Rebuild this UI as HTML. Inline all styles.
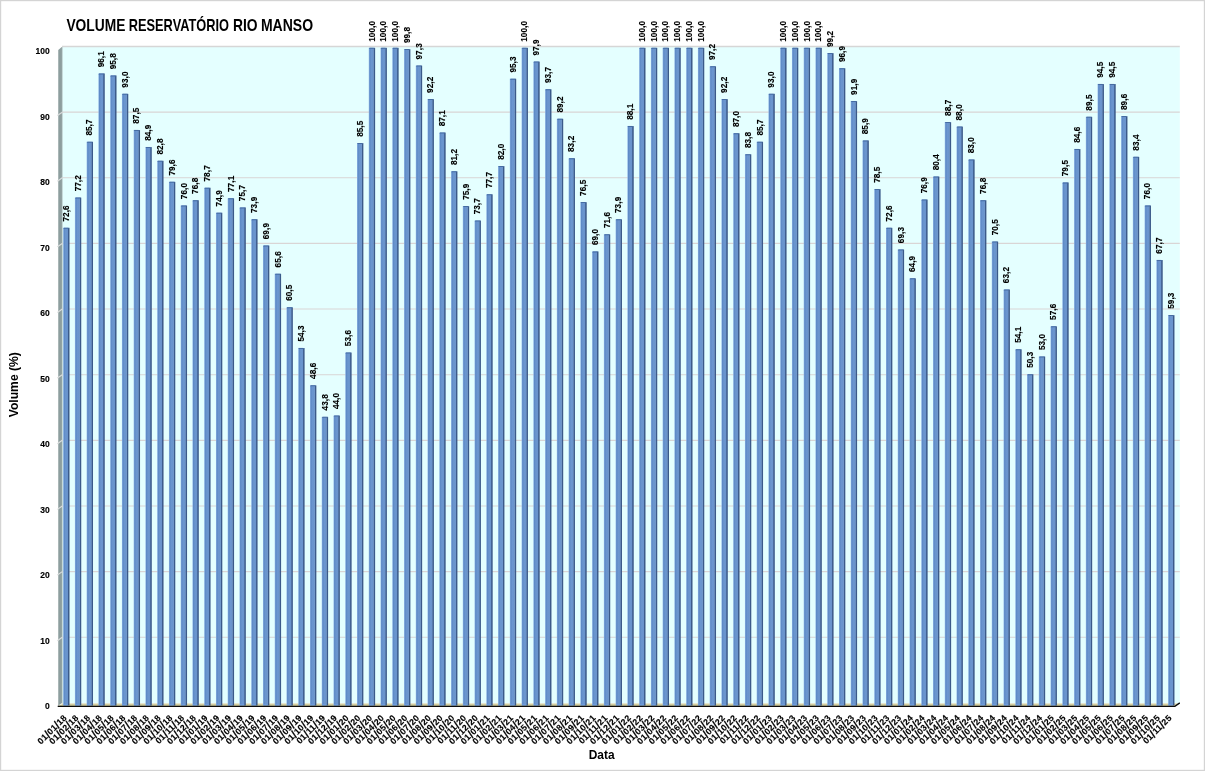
<!DOCTYPE html>
<html lang="pt-BR">
<head>
<meta charset="utf-8">
<title>Volume Reservatório Rio Manso</title>
<style>
html,body{margin:0;padding:0;background:#fff;}
body{width:1205px;height:771px;overflow:hidden;}
svg{display:block;}
</style>
</head>
<body>
<svg width="1205" height="771" viewBox="0 0 1205 771">
<defs><linearGradient id="face" x1="0" x2="1" y1="0" y2="0"><stop offset="0" stop-color="#8fb5e6"/><stop offset="0.22" stop-color="#5e8ac6"/><stop offset="0.55" stop-color="#6b96cf"/><stop offset="1" stop-color="#6892cb"/></linearGradient></defs>
<rect x="0" y="0" width="1205" height="771" fill="#fff"/>
<rect x="0.5" y="0.5" width="1204" height="770" fill="none" stroke="#d4d4d4" stroke-width="1.4"/>
<rect x="62.30" y="46.50" width="1117.50" height="656.70" fill="#e4ffff"/>
<polygon points="58.25,50.10 62.30,46.50 62.30,703.40 58.25,706.20" fill="#8d9e9e"/>
<rect x="61.90" y="47.00" width="0.9" height="656.40" fill="#c4d8d8"/>
<line x1="62.30" y1="637.26" x2="1179.80" y2="637.26" stroke="#d9d5d5" stroke-width="1.1"/>
<line x1="57.40" y1="640.66" x2="62.30" y2="637.26" stroke="#d9dcdc" stroke-width="1.2"/>
<line x1="62.30" y1="571.62" x2="1179.80" y2="571.62" stroke="#d9d5d5" stroke-width="1.1"/>
<line x1="57.40" y1="575.02" x2="62.30" y2="571.62" stroke="#d9dcdc" stroke-width="1.2"/>
<line x1="62.30" y1="505.98" x2="1179.80" y2="505.98" stroke="#d9d5d5" stroke-width="1.1"/>
<line x1="57.40" y1="509.38" x2="62.30" y2="505.98" stroke="#d9dcdc" stroke-width="1.2"/>
<line x1="62.30" y1="440.34" x2="1179.80" y2="440.34" stroke="#d9d5d5" stroke-width="1.1"/>
<line x1="57.40" y1="443.74" x2="62.30" y2="440.34" stroke="#d9dcdc" stroke-width="1.2"/>
<line x1="62.30" y1="374.70" x2="1179.80" y2="374.70" stroke="#d9d5d5" stroke-width="1.1"/>
<line x1="57.40" y1="378.10" x2="62.30" y2="374.70" stroke="#d9dcdc" stroke-width="1.2"/>
<line x1="62.30" y1="309.06" x2="1179.80" y2="309.06" stroke="#d9d5d5" stroke-width="1.1"/>
<line x1="57.40" y1="312.46" x2="62.30" y2="309.06" stroke="#d9dcdc" stroke-width="1.2"/>
<line x1="62.30" y1="243.42" x2="1179.80" y2="243.42" stroke="#d9d5d5" stroke-width="1.1"/>
<line x1="57.40" y1="246.82" x2="62.30" y2="243.42" stroke="#d9dcdc" stroke-width="1.2"/>
<line x1="62.30" y1="177.78" x2="1179.80" y2="177.78" stroke="#d9d5d5" stroke-width="1.1"/>
<line x1="57.40" y1="181.18" x2="62.30" y2="177.78" stroke="#d9dcdc" stroke-width="1.2"/>
<line x1="62.30" y1="112.14" x2="1179.80" y2="112.14" stroke="#d9d5d5" stroke-width="1.1"/>
<line x1="57.40" y1="115.54" x2="62.30" y2="112.14" stroke="#d9dcdc" stroke-width="1.2"/>
<line x1="62.00" y1="46.55" x2="1179.80" y2="46.55" stroke="#d6d6d6" stroke-width="1.5"/>
<polygon points="58.00,706.00 62.30,703.40 1179.80,703.40 1175.10,706.00" fill="#d2cd9e"/>
<polygon points="58.30,705.40 62.30,702.80 62.30,704.60" fill="#eef0e6"/>
<rect x="67.70" y="227.94" width="1.80" height="477.56" fill="#3b5a8a"/>
<rect x="63.15" y="227.74" width="4.85" height="477.76" fill="url(#face)"/>
<polygon points="63.25,228.74 64.05,227.74 69.50,227.74 68.20,228.74" fill="#466ca3"/>
<rect x="63.55" y="704.20" width="4.25" height="1.3" fill="#6e9de0"/>
<rect x="79.45" y="197.73" width="1.80" height="507.77" fill="#3b5a8a"/>
<rect x="74.91" y="197.53" width="4.85" height="507.97" fill="url(#face)"/>
<polygon points="75.00,198.53 75.81,197.53 81.25,197.53 79.95,198.53" fill="#466ca3"/>
<rect x="75.31" y="704.20" width="4.25" height="1.3" fill="#6e9de0"/>
<rect x="91.21" y="141.91" width="1.80" height="563.59" fill="#3b5a8a"/>
<rect x="86.66" y="141.71" width="4.85" height="563.79" fill="url(#face)"/>
<polygon points="86.76,142.71 87.56,141.71 93.01,141.71 91.71,142.71" fill="#466ca3"/>
<rect x="87.06" y="704.20" width="4.25" height="1.3" fill="#6e9de0"/>
<rect x="102.96" y="73.61" width="1.80" height="631.89" fill="#3b5a8a"/>
<rect x="98.41" y="73.41" width="4.85" height="632.09" fill="url(#face)"/>
<polygon points="98.51,74.41 99.31,73.41 104.76,73.41 103.46,74.41" fill="#466ca3"/>
<rect x="98.81" y="704.20" width="4.25" height="1.3" fill="#6e9de0"/>
<rect x="114.72" y="75.58" width="1.80" height="629.92" fill="#3b5a8a"/>
<rect x="110.17" y="75.38" width="4.85" height="630.12" fill="url(#face)"/>
<polygon points="110.27,76.38 111.07,75.38 116.52,75.38 115.22,76.38" fill="#466ca3"/>
<rect x="110.57" y="704.20" width="4.25" height="1.3" fill="#6e9de0"/>
<rect x="126.48" y="93.97" width="1.80" height="611.53" fill="#3b5a8a"/>
<rect x="121.93" y="93.77" width="4.85" height="611.73" fill="url(#face)"/>
<polygon points="122.03,94.77 122.83,93.77 128.28,93.77 126.98,94.77" fill="#466ca3"/>
<rect x="122.33" y="704.20" width="4.25" height="1.3" fill="#6e9de0"/>
<rect x="138.23" y="130.09" width="1.80" height="575.41" fill="#3b5a8a"/>
<rect x="133.68" y="129.89" width="4.85" height="575.61" fill="url(#face)"/>
<polygon points="133.78,130.89 134.58,129.89 140.03,129.89 138.73,130.89" fill="#466ca3"/>
<rect x="134.08" y="704.20" width="4.25" height="1.3" fill="#6e9de0"/>
<rect x="149.98" y="147.16" width="1.80" height="558.34" fill="#3b5a8a"/>
<rect x="145.44" y="146.96" width="4.85" height="558.54" fill="url(#face)"/>
<polygon points="145.53,147.96 146.34,146.96 151.78,146.96 150.48,147.96" fill="#466ca3"/>
<rect x="145.84" y="704.20" width="4.25" height="1.3" fill="#6e9de0"/>
<rect x="161.74" y="160.95" width="1.80" height="544.55" fill="#3b5a8a"/>
<rect x="157.19" y="160.75" width="4.85" height="544.75" fill="url(#face)"/>
<polygon points="157.29,161.75 158.09,160.75 163.54,160.75 162.24,161.75" fill="#466ca3"/>
<rect x="157.59" y="704.20" width="4.25" height="1.3" fill="#6e9de0"/>
<rect x="173.49" y="181.97" width="1.80" height="523.53" fill="#3b5a8a"/>
<rect x="168.94" y="181.77" width="4.85" height="523.73" fill="url(#face)"/>
<polygon points="169.04,182.77 169.84,181.77 175.29,181.77 173.99,182.77" fill="#466ca3"/>
<rect x="169.34" y="704.20" width="4.25" height="1.3" fill="#6e9de0"/>
<rect x="185.25" y="205.61" width="1.80" height="499.89" fill="#3b5a8a"/>
<rect x="180.70" y="205.41" width="4.85" height="500.09" fill="url(#face)"/>
<polygon points="180.80,206.41 181.60,205.41 187.05,205.41 185.75,206.41" fill="#466ca3"/>
<rect x="181.10" y="704.20" width="4.25" height="1.3" fill="#6e9de0"/>
<rect x="197.00" y="200.35" width="1.80" height="505.15" fill="#3b5a8a"/>
<rect x="192.46" y="200.15" width="4.85" height="505.35" fill="url(#face)"/>
<polygon points="192.56,201.15 193.36,200.15 198.81,200.15 197.50,201.15" fill="#466ca3"/>
<rect x="192.86" y="704.20" width="4.25" height="1.3" fill="#6e9de0"/>
<rect x="208.76" y="187.88" width="1.80" height="517.62" fill="#3b5a8a"/>
<rect x="204.21" y="187.68" width="4.85" height="517.82" fill="url(#face)"/>
<polygon points="204.31,188.68 205.11,187.68 210.56,187.68 209.26,188.68" fill="#466ca3"/>
<rect x="204.61" y="704.20" width="4.25" height="1.3" fill="#6e9de0"/>
<rect x="220.51" y="212.83" width="1.80" height="492.67" fill="#3b5a8a"/>
<rect x="215.97" y="212.63" width="4.85" height="492.87" fill="url(#face)"/>
<polygon points="216.06,213.63 216.87,212.63 222.31,212.63 221.01,213.63" fill="#466ca3"/>
<rect x="216.37" y="704.20" width="4.25" height="1.3" fill="#6e9de0"/>
<rect x="232.27" y="198.38" width="1.80" height="507.12" fill="#3b5a8a"/>
<rect x="227.72" y="198.18" width="4.85" height="507.32" fill="url(#face)"/>
<polygon points="227.82,199.18 228.62,198.18 234.07,198.18 232.77,199.18" fill="#466ca3"/>
<rect x="228.12" y="704.20" width="4.25" height="1.3" fill="#6e9de0"/>
<rect x="244.03" y="207.58" width="1.80" height="497.92" fill="#3b5a8a"/>
<rect x="239.48" y="207.38" width="4.85" height="498.12" fill="url(#face)"/>
<polygon points="239.58,208.38 240.38,207.38 245.83,207.38 244.53,208.38" fill="#466ca3"/>
<rect x="239.88" y="704.20" width="4.25" height="1.3" fill="#6e9de0"/>
<rect x="255.78" y="219.40" width="1.80" height="486.10" fill="#3b5a8a"/>
<rect x="251.23" y="219.20" width="4.85" height="486.30" fill="url(#face)"/>
<polygon points="251.33,220.20 252.13,219.20 257.58,219.20 256.28,220.20" fill="#466ca3"/>
<rect x="251.63" y="704.20" width="4.25" height="1.3" fill="#6e9de0"/>
<rect x="267.54" y="245.67" width="1.80" height="459.83" fill="#3b5a8a"/>
<rect x="262.99" y="245.47" width="4.85" height="460.03" fill="url(#face)"/>
<polygon points="263.09,246.47 263.88,245.47 269.34,245.47 268.04,246.47" fill="#466ca3"/>
<rect x="263.38" y="704.20" width="4.25" height="1.3" fill="#6e9de0"/>
<rect x="279.29" y="273.90" width="1.80" height="431.60" fill="#3b5a8a"/>
<rect x="274.74" y="273.70" width="4.85" height="431.80" fill="url(#face)"/>
<polygon points="274.84,274.70 275.64,273.70 281.09,273.70 279.79,274.70" fill="#466ca3"/>
<rect x="275.14" y="704.20" width="4.25" height="1.3" fill="#6e9de0"/>
<rect x="291.05" y="307.40" width="1.80" height="398.10" fill="#3b5a8a"/>
<rect x="286.50" y="307.20" width="4.85" height="398.30" fill="url(#face)"/>
<polygon points="286.60,308.20 287.39,307.20 292.85,307.20 291.55,308.20" fill="#466ca3"/>
<rect x="286.89" y="704.20" width="4.25" height="1.3" fill="#6e9de0"/>
<rect x="302.80" y="348.11" width="1.80" height="357.39" fill="#3b5a8a"/>
<rect x="298.25" y="347.91" width="4.85" height="357.59" fill="url(#face)"/>
<polygon points="298.35,348.91 299.15,347.91 304.60,347.91 303.30,348.91" fill="#466ca3"/>
<rect x="298.65" y="704.20" width="4.25" height="1.3" fill="#6e9de0"/>
<rect x="314.56" y="385.54" width="1.80" height="319.96" fill="#3b5a8a"/>
<rect x="310.00" y="385.34" width="4.85" height="320.16" fill="url(#face)"/>
<polygon points="310.11,386.34 310.90,385.34 316.36,385.34 315.06,386.34" fill="#466ca3"/>
<rect x="310.40" y="704.20" width="4.25" height="1.3" fill="#6e9de0"/>
<rect x="326.31" y="417.07" width="1.80" height="288.43" fill="#3b5a8a"/>
<rect x="321.76" y="416.87" width="4.85" height="288.63" fill="url(#face)"/>
<polygon points="321.86,417.87 322.66,416.87 328.11,416.87 326.81,417.87" fill="#466ca3"/>
<rect x="322.16" y="704.20" width="4.25" height="1.3" fill="#6e9de0"/>
<rect x="338.06" y="415.75" width="1.80" height="289.75" fill="#3b5a8a"/>
<rect x="333.51" y="415.55" width="4.85" height="289.95" fill="url(#face)"/>
<polygon points="333.62,416.55 334.41,415.55 339.87,415.55 338.56,416.55" fill="#466ca3"/>
<rect x="333.91" y="704.20" width="4.25" height="1.3" fill="#6e9de0"/>
<rect x="349.82" y="352.71" width="1.80" height="352.79" fill="#3b5a8a"/>
<rect x="345.27" y="352.51" width="4.85" height="352.99" fill="url(#face)"/>
<polygon points="345.37,353.51 346.17,352.51 351.62,352.51 350.32,353.51" fill="#466ca3"/>
<rect x="345.67" y="704.20" width="4.25" height="1.3" fill="#6e9de0"/>
<rect x="361.57" y="143.22" width="1.80" height="562.28" fill="#3b5a8a"/>
<rect x="357.02" y="143.02" width="4.85" height="562.48" fill="url(#face)"/>
<polygon points="357.12,144.02 357.92,143.02 363.38,143.02 362.07,144.02" fill="#466ca3"/>
<rect x="357.42" y="704.20" width="4.25" height="1.3" fill="#6e9de0"/>
<rect x="373.33" y="48.00" width="1.80" height="657.50" fill="#3b5a8a"/>
<rect x="368.78" y="47.80" width="4.85" height="657.70" fill="url(#face)"/>
<polygon points="368.88,48.80 369.68,47.80 375.13,47.80 373.83,48.80" fill="#466ca3"/>
<rect x="369.18" y="704.20" width="4.25" height="1.3" fill="#6e9de0"/>
<rect x="385.09" y="48.00" width="1.80" height="657.50" fill="#3b5a8a"/>
<rect x="380.54" y="47.80" width="4.85" height="657.70" fill="url(#face)"/>
<polygon points="380.64,48.80 381.44,47.80 386.89,47.80 385.59,48.80" fill="#466ca3"/>
<rect x="380.94" y="704.20" width="4.25" height="1.3" fill="#6e9de0"/>
<rect x="396.84" y="48.00" width="1.80" height="657.50" fill="#3b5a8a"/>
<rect x="392.29" y="47.80" width="4.85" height="657.70" fill="url(#face)"/>
<polygon points="392.39,48.80 393.19,47.80 398.64,47.80 397.34,48.80" fill="#466ca3"/>
<rect x="392.69" y="704.20" width="4.25" height="1.3" fill="#6e9de0"/>
<rect x="408.60" y="49.31" width="1.80" height="656.19" fill="#3b5a8a"/>
<rect x="404.05" y="49.11" width="4.85" height="656.39" fill="url(#face)"/>
<polygon points="404.15,50.11 404.94,49.11 410.40,49.11 409.10,50.11" fill="#466ca3"/>
<rect x="404.44" y="704.20" width="4.25" height="1.3" fill="#6e9de0"/>
<rect x="420.35" y="65.73" width="1.80" height="639.77" fill="#3b5a8a"/>
<rect x="415.80" y="65.53" width="4.85" height="639.97" fill="url(#face)"/>
<polygon points="415.90,66.53 416.70,65.53 422.15,65.53 420.85,66.53" fill="#466ca3"/>
<rect x="416.20" y="704.20" width="4.25" height="1.3" fill="#6e9de0"/>
<rect x="432.11" y="99.22" width="1.80" height="606.28" fill="#3b5a8a"/>
<rect x="427.56" y="99.02" width="4.85" height="606.48" fill="url(#face)"/>
<polygon points="427.66,100.02 428.45,99.02 433.91,99.02 432.61,100.02" fill="#466ca3"/>
<rect x="427.95" y="704.20" width="4.25" height="1.3" fill="#6e9de0"/>
<rect x="443.86" y="132.71" width="1.80" height="572.79" fill="#3b5a8a"/>
<rect x="439.31" y="132.51" width="4.85" height="572.99" fill="url(#face)"/>
<polygon points="439.41,133.51 440.21,132.51 445.66,132.51 444.36,133.51" fill="#466ca3"/>
<rect x="439.71" y="704.20" width="4.25" height="1.3" fill="#6e9de0"/>
<rect x="455.62" y="171.46" width="1.80" height="534.04" fill="#3b5a8a"/>
<rect x="451.06" y="171.26" width="4.85" height="534.24" fill="url(#face)"/>
<polygon points="451.17,172.26 451.96,171.26 457.42,171.26 456.12,172.26" fill="#466ca3"/>
<rect x="451.46" y="704.20" width="4.25" height="1.3" fill="#6e9de0"/>
<rect x="467.37" y="206.26" width="1.80" height="499.24" fill="#3b5a8a"/>
<rect x="462.82" y="206.06" width="4.85" height="499.44" fill="url(#face)"/>
<polygon points="462.92,207.06 463.72,206.06 469.17,206.06 467.87,207.06" fill="#466ca3"/>
<rect x="463.22" y="704.20" width="4.25" height="1.3" fill="#6e9de0"/>
<rect x="479.12" y="220.71" width="1.80" height="484.79" fill="#3b5a8a"/>
<rect x="474.57" y="220.51" width="4.85" height="484.99" fill="url(#face)"/>
<polygon points="474.68,221.51 475.47,220.51 480.93,220.51 479.62,221.51" fill="#466ca3"/>
<rect x="474.97" y="704.20" width="4.25" height="1.3" fill="#6e9de0"/>
<rect x="490.88" y="194.44" width="1.80" height="511.06" fill="#3b5a8a"/>
<rect x="486.33" y="194.24" width="4.85" height="511.26" fill="url(#face)"/>
<polygon points="486.43,195.24 487.23,194.24 492.68,194.24 491.38,195.24" fill="#466ca3"/>
<rect x="486.73" y="704.20" width="4.25" height="1.3" fill="#6e9de0"/>
<rect x="502.63" y="166.21" width="1.80" height="539.29" fill="#3b5a8a"/>
<rect x="498.08" y="166.01" width="4.85" height="539.49" fill="url(#face)"/>
<polygon points="498.19,167.01 498.98,166.01 504.44,166.01 503.13,167.01" fill="#466ca3"/>
<rect x="498.48" y="704.20" width="4.25" height="1.3" fill="#6e9de0"/>
<rect x="514.39" y="78.86" width="1.80" height="626.64" fill="#3b5a8a"/>
<rect x="509.84" y="78.66" width="4.85" height="626.84" fill="url(#face)"/>
<polygon points="509.94,79.66 510.74,78.66 516.19,78.66 514.89,79.66" fill="#466ca3"/>
<rect x="510.24" y="704.20" width="4.25" height="1.3" fill="#6e9de0"/>
<rect x="526.15" y="48.00" width="1.80" height="657.50" fill="#3b5a8a"/>
<rect x="521.60" y="47.80" width="4.85" height="657.70" fill="url(#face)"/>
<polygon points="521.70,48.80 522.50,47.80 527.95,47.80 526.65,48.80" fill="#466ca3"/>
<rect x="522.00" y="704.20" width="4.25" height="1.3" fill="#6e9de0"/>
<rect x="537.90" y="61.79" width="1.80" height="643.71" fill="#3b5a8a"/>
<rect x="533.35" y="61.59" width="4.85" height="643.91" fill="url(#face)"/>
<polygon points="533.45,62.59 534.25,61.59 539.70,61.59 538.40,62.59" fill="#466ca3"/>
<rect x="533.75" y="704.20" width="4.25" height="1.3" fill="#6e9de0"/>
<rect x="549.66" y="89.37" width="1.80" height="616.13" fill="#3b5a8a"/>
<rect x="545.11" y="89.17" width="4.85" height="616.33" fill="url(#face)"/>
<polygon points="545.21,90.17 546.00,89.17 551.46,89.17 550.16,90.17" fill="#466ca3"/>
<rect x="545.50" y="704.20" width="4.25" height="1.3" fill="#6e9de0"/>
<rect x="561.41" y="118.92" width="1.80" height="586.58" fill="#3b5a8a"/>
<rect x="556.86" y="118.72" width="4.85" height="586.78" fill="url(#face)"/>
<polygon points="556.96,119.72 557.76,118.72 563.21,118.72 561.91,119.72" fill="#466ca3"/>
<rect x="557.26" y="704.20" width="4.25" height="1.3" fill="#6e9de0"/>
<rect x="573.17" y="158.33" width="1.80" height="547.17" fill="#3b5a8a"/>
<rect x="568.62" y="158.13" width="4.85" height="547.37" fill="url(#face)"/>
<polygon points="568.72,159.13 569.51,158.13 574.97,158.13 573.67,159.13" fill="#466ca3"/>
<rect x="569.01" y="704.20" width="4.25" height="1.3" fill="#6e9de0"/>
<rect x="584.92" y="202.32" width="1.80" height="503.18" fill="#3b5a8a"/>
<rect x="580.37" y="202.12" width="4.85" height="503.38" fill="url(#face)"/>
<polygon points="580.47,203.12 581.27,202.12 586.72,202.12 585.42,203.12" fill="#466ca3"/>
<rect x="580.77" y="704.20" width="4.25" height="1.3" fill="#6e9de0"/>
<rect x="596.68" y="251.58" width="1.80" height="453.92" fill="#3b5a8a"/>
<rect x="592.12" y="251.38" width="4.85" height="454.12" fill="url(#face)"/>
<polygon points="592.23,252.38 593.02,251.38 598.48,251.38 597.18,252.38" fill="#466ca3"/>
<rect x="592.52" y="704.20" width="4.25" height="1.3" fill="#6e9de0"/>
<rect x="608.43" y="234.50" width="1.80" height="471.00" fill="#3b5a8a"/>
<rect x="603.88" y="234.30" width="4.85" height="471.20" fill="url(#face)"/>
<polygon points="603.98,235.30 604.78,234.30 610.23,234.30 608.93,235.30" fill="#466ca3"/>
<rect x="604.28" y="704.20" width="4.25" height="1.3" fill="#6e9de0"/>
<rect x="620.19" y="219.40" width="1.80" height="486.10" fill="#3b5a8a"/>
<rect x="615.63" y="219.20" width="4.85" height="486.30" fill="url(#face)"/>
<polygon points="615.74,220.20 616.53,219.20 621.99,219.20 620.69,220.20" fill="#466ca3"/>
<rect x="616.03" y="704.20" width="4.25" height="1.3" fill="#6e9de0"/>
<rect x="631.94" y="126.15" width="1.80" height="579.35" fill="#3b5a8a"/>
<rect x="627.39" y="125.95" width="4.85" height="579.55" fill="url(#face)"/>
<polygon points="627.49,126.95 628.29,125.95 633.74,125.95 632.44,126.95" fill="#466ca3"/>
<rect x="627.79" y="704.20" width="4.25" height="1.3" fill="#6e9de0"/>
<rect x="643.70" y="48.00" width="1.80" height="657.50" fill="#3b5a8a"/>
<rect x="639.14" y="47.80" width="4.85" height="657.70" fill="url(#face)"/>
<polygon points="639.25,48.80 640.04,47.80 645.50,47.80 644.20,48.80" fill="#466ca3"/>
<rect x="639.54" y="704.20" width="4.25" height="1.3" fill="#6e9de0"/>
<rect x="655.45" y="48.00" width="1.80" height="657.50" fill="#3b5a8a"/>
<rect x="650.90" y="47.80" width="4.85" height="657.70" fill="url(#face)"/>
<polygon points="651.00,48.80 651.80,47.80 657.25,47.80 655.95,48.80" fill="#466ca3"/>
<rect x="651.30" y="704.20" width="4.25" height="1.3" fill="#6e9de0"/>
<rect x="667.21" y="48.00" width="1.80" height="657.50" fill="#3b5a8a"/>
<rect x="662.65" y="47.80" width="4.85" height="657.70" fill="url(#face)"/>
<polygon points="662.75,48.80 663.55,47.80 669.00,47.80 667.71,48.80" fill="#466ca3"/>
<rect x="663.05" y="704.20" width="4.25" height="1.3" fill="#6e9de0"/>
<rect x="678.96" y="48.00" width="1.80" height="657.50" fill="#3b5a8a"/>
<rect x="674.41" y="47.80" width="4.85" height="657.70" fill="url(#face)"/>
<polygon points="674.51,48.80 675.31,47.80 680.76,47.80 679.46,48.80" fill="#466ca3"/>
<rect x="674.81" y="704.20" width="4.25" height="1.3" fill="#6e9de0"/>
<rect x="690.72" y="48.00" width="1.80" height="657.50" fill="#3b5a8a"/>
<rect x="686.16" y="47.80" width="4.85" height="657.70" fill="url(#face)"/>
<polygon points="686.26,48.80 687.06,47.80 692.51,47.80 691.22,48.80" fill="#466ca3"/>
<rect x="686.56" y="704.20" width="4.25" height="1.3" fill="#6e9de0"/>
<rect x="702.47" y="48.00" width="1.80" height="657.50" fill="#3b5a8a"/>
<rect x="697.92" y="47.80" width="4.85" height="657.70" fill="url(#face)"/>
<polygon points="698.02,48.80 698.82,47.80 704.27,47.80 702.97,48.80" fill="#466ca3"/>
<rect x="698.32" y="704.20" width="4.25" height="1.3" fill="#6e9de0"/>
<rect x="714.23" y="66.39" width="1.80" height="639.11" fill="#3b5a8a"/>
<rect x="709.68" y="66.19" width="4.85" height="639.31" fill="url(#face)"/>
<polygon points="709.78,67.19 710.58,66.19 716.03,66.19 714.73,67.19" fill="#466ca3"/>
<rect x="710.08" y="704.20" width="4.25" height="1.3" fill="#6e9de0"/>
<rect x="725.98" y="99.22" width="1.80" height="606.28" fill="#3b5a8a"/>
<rect x="721.43" y="99.02" width="4.85" height="606.48" fill="url(#face)"/>
<polygon points="721.53,100.02 722.33,99.02 727.78,99.02 726.48,100.02" fill="#466ca3"/>
<rect x="721.83" y="704.20" width="4.25" height="1.3" fill="#6e9de0"/>
<rect x="737.74" y="133.37" width="1.80" height="572.13" fill="#3b5a8a"/>
<rect x="733.19" y="133.17" width="4.85" height="572.33" fill="url(#face)"/>
<polygon points="733.29,134.17 734.09,133.17 739.54,133.17 738.24,134.17" fill="#466ca3"/>
<rect x="733.59" y="704.20" width="4.25" height="1.3" fill="#6e9de0"/>
<rect x="749.49" y="154.39" width="1.80" height="551.11" fill="#3b5a8a"/>
<rect x="744.94" y="154.19" width="4.85" height="551.31" fill="url(#face)"/>
<polygon points="745.04,155.19 745.84,154.19 751.29,154.19 749.99,155.19" fill="#466ca3"/>
<rect x="745.34" y="704.20" width="4.25" height="1.3" fill="#6e9de0"/>
<rect x="761.25" y="141.91" width="1.80" height="563.59" fill="#3b5a8a"/>
<rect x="756.70" y="141.71" width="4.85" height="563.79" fill="url(#face)"/>
<polygon points="756.80,142.71 757.60,141.71 763.05,141.71 761.75,142.71" fill="#466ca3"/>
<rect x="757.10" y="704.20" width="4.25" height="1.3" fill="#6e9de0"/>
<rect x="773.00" y="93.97" width="1.80" height="611.53" fill="#3b5a8a"/>
<rect x="768.45" y="93.77" width="4.85" height="611.73" fill="url(#face)"/>
<polygon points="768.55,94.77 769.35,93.77 774.80,93.77 773.50,94.77" fill="#466ca3"/>
<rect x="768.85" y="704.20" width="4.25" height="1.3" fill="#6e9de0"/>
<rect x="784.76" y="48.00" width="1.80" height="657.50" fill="#3b5a8a"/>
<rect x="780.21" y="47.80" width="4.85" height="657.70" fill="url(#face)"/>
<polygon points="780.31,48.80 781.11,47.80 786.56,47.80 785.26,48.80" fill="#466ca3"/>
<rect x="780.61" y="704.20" width="4.25" height="1.3" fill="#6e9de0"/>
<rect x="796.51" y="48.00" width="1.80" height="657.50" fill="#3b5a8a"/>
<rect x="791.96" y="47.80" width="4.85" height="657.70" fill="url(#face)"/>
<polygon points="792.06,48.80 792.86,47.80 798.31,47.80 797.01,48.80" fill="#466ca3"/>
<rect x="792.36" y="704.20" width="4.25" height="1.3" fill="#6e9de0"/>
<rect x="808.27" y="48.00" width="1.80" height="657.50" fill="#3b5a8a"/>
<rect x="803.72" y="47.80" width="4.85" height="657.70" fill="url(#face)"/>
<polygon points="803.82,48.80 804.62,47.80 810.07,47.80 808.77,48.80" fill="#466ca3"/>
<rect x="804.12" y="704.20" width="4.25" height="1.3" fill="#6e9de0"/>
<rect x="820.02" y="48.00" width="1.80" height="657.50" fill="#3b5a8a"/>
<rect x="815.47" y="47.80" width="4.85" height="657.70" fill="url(#face)"/>
<polygon points="815.57,48.80 816.37,47.80 821.82,47.80 820.52,48.80" fill="#466ca3"/>
<rect x="815.87" y="704.20" width="4.25" height="1.3" fill="#6e9de0"/>
<rect x="831.78" y="53.25" width="1.80" height="652.25" fill="#3b5a8a"/>
<rect x="827.23" y="53.05" width="4.85" height="652.45" fill="url(#face)"/>
<polygon points="827.33,54.05 828.12,53.05 833.58,53.05 832.28,54.05" fill="#466ca3"/>
<rect x="827.62" y="704.20" width="4.25" height="1.3" fill="#6e9de0"/>
<rect x="843.53" y="68.36" width="1.80" height="637.14" fill="#3b5a8a"/>
<rect x="838.98" y="68.16" width="4.85" height="637.34" fill="url(#face)"/>
<polygon points="839.08,69.16 839.88,68.16 845.33,68.16 844.03,69.16" fill="#466ca3"/>
<rect x="839.38" y="704.20" width="4.25" height="1.3" fill="#6e9de0"/>
<rect x="855.29" y="101.19" width="1.80" height="604.31" fill="#3b5a8a"/>
<rect x="850.74" y="100.99" width="4.85" height="604.51" fill="url(#face)"/>
<polygon points="850.84,101.99 851.63,100.99 857.09,100.99 855.79,101.99" fill="#466ca3"/>
<rect x="851.13" y="704.20" width="4.25" height="1.3" fill="#6e9de0"/>
<rect x="867.04" y="140.59" width="1.80" height="564.91" fill="#3b5a8a"/>
<rect x="862.49" y="140.39" width="4.85" height="565.11" fill="url(#face)"/>
<polygon points="862.59,141.39 863.39,140.39 868.84,140.39 867.54,141.39" fill="#466ca3"/>
<rect x="862.89" y="704.20" width="4.25" height="1.3" fill="#6e9de0"/>
<rect x="878.80" y="189.19" width="1.80" height="516.31" fill="#3b5a8a"/>
<rect x="874.25" y="188.99" width="4.85" height="516.51" fill="url(#face)"/>
<polygon points="874.35,189.99 875.14,188.99 880.60,188.99 879.30,189.99" fill="#466ca3"/>
<rect x="874.64" y="704.20" width="4.25" height="1.3" fill="#6e9de0"/>
<rect x="890.55" y="227.94" width="1.80" height="477.56" fill="#3b5a8a"/>
<rect x="886.00" y="227.74" width="4.85" height="477.76" fill="url(#face)"/>
<polygon points="886.10,228.74 886.90,227.74 892.35,227.74 891.05,228.74" fill="#466ca3"/>
<rect x="886.40" y="704.20" width="4.25" height="1.3" fill="#6e9de0"/>
<rect x="902.31" y="249.61" width="1.80" height="455.89" fill="#3b5a8a"/>
<rect x="897.75" y="249.41" width="4.85" height="456.09" fill="url(#face)"/>
<polygon points="897.86,250.41 898.65,249.41 904.11,249.41 902.81,250.41" fill="#466ca3"/>
<rect x="898.15" y="704.20" width="4.25" height="1.3" fill="#6e9de0"/>
<rect x="914.06" y="278.50" width="1.80" height="427.00" fill="#3b5a8a"/>
<rect x="909.51" y="278.30" width="4.85" height="427.20" fill="url(#face)"/>
<polygon points="909.61,279.30 910.41,278.30 915.86,278.30 914.56,279.30" fill="#466ca3"/>
<rect x="909.91" y="704.20" width="4.25" height="1.3" fill="#6e9de0"/>
<rect x="925.82" y="199.70" width="1.80" height="505.80" fill="#3b5a8a"/>
<rect x="921.26" y="199.50" width="4.85" height="506.00" fill="url(#face)"/>
<polygon points="921.37,200.50 922.16,199.50 927.62,199.50 926.32,200.50" fill="#466ca3"/>
<rect x="921.66" y="704.20" width="4.25" height="1.3" fill="#6e9de0"/>
<rect x="937.57" y="176.71" width="1.80" height="528.79" fill="#3b5a8a"/>
<rect x="933.02" y="176.51" width="4.85" height="528.99" fill="url(#face)"/>
<polygon points="933.12,177.51 933.92,176.51 939.37,176.51 938.07,177.51" fill="#466ca3"/>
<rect x="933.42" y="704.20" width="4.25" height="1.3" fill="#6e9de0"/>
<rect x="949.33" y="122.21" width="1.80" height="583.29" fill="#3b5a8a"/>
<rect x="944.78" y="122.01" width="4.85" height="583.49" fill="url(#face)"/>
<polygon points="944.88,123.01 945.68,122.01 951.13,122.01 949.83,123.01" fill="#466ca3"/>
<rect x="945.18" y="704.20" width="4.25" height="1.3" fill="#6e9de0"/>
<rect x="961.08" y="126.80" width="1.80" height="578.70" fill="#3b5a8a"/>
<rect x="956.53" y="126.60" width="4.85" height="578.90" fill="url(#face)"/>
<polygon points="956.63,127.60 957.43,126.60 962.88,126.60 961.58,127.60" fill="#466ca3"/>
<rect x="956.93" y="704.20" width="4.25" height="1.3" fill="#6e9de0"/>
<rect x="972.84" y="159.64" width="1.80" height="545.86" fill="#3b5a8a"/>
<rect x="968.29" y="159.44" width="4.85" height="546.06" fill="url(#face)"/>
<polygon points="968.39,160.44 969.19,159.44 974.64,159.44 973.34,160.44" fill="#466ca3"/>
<rect x="968.69" y="704.20" width="4.25" height="1.3" fill="#6e9de0"/>
<rect x="984.59" y="200.35" width="1.80" height="505.15" fill="#3b5a8a"/>
<rect x="980.04" y="200.15" width="4.85" height="505.35" fill="url(#face)"/>
<polygon points="980.14,201.15 980.94,200.15 986.39,200.15 985.09,201.15" fill="#466ca3"/>
<rect x="980.44" y="704.20" width="4.25" height="1.3" fill="#6e9de0"/>
<rect x="996.35" y="241.73" width="1.80" height="463.77" fill="#3b5a8a"/>
<rect x="991.80" y="241.53" width="4.85" height="463.97" fill="url(#face)"/>
<polygon points="991.90,242.53 992.70,241.53 998.15,241.53 996.85,242.53" fill="#466ca3"/>
<rect x="992.20" y="704.20" width="4.25" height="1.3" fill="#6e9de0"/>
<rect x="1008.10" y="289.67" width="1.80" height="415.83" fill="#3b5a8a"/>
<rect x="1003.55" y="289.47" width="4.85" height="416.03" fill="url(#face)"/>
<polygon points="1003.65,290.47 1004.45,289.47 1009.90,289.47 1008.60,290.47" fill="#466ca3"/>
<rect x="1003.95" y="704.20" width="4.25" height="1.3" fill="#6e9de0"/>
<rect x="1019.86" y="349.43" width="1.80" height="356.07" fill="#3b5a8a"/>
<rect x="1015.31" y="349.23" width="4.85" height="356.27" fill="url(#face)"/>
<polygon points="1015.41,350.23 1016.21,349.23 1021.66,349.23 1020.36,350.23" fill="#466ca3"/>
<rect x="1015.71" y="704.20" width="4.25" height="1.3" fill="#6e9de0"/>
<rect x="1031.61" y="374.38" width="1.80" height="331.12" fill="#3b5a8a"/>
<rect x="1027.06" y="374.18" width="4.85" height="331.32" fill="url(#face)"/>
<polygon points="1027.16,375.18 1027.96,374.18 1033.41,374.18 1032.11,375.18" fill="#466ca3"/>
<rect x="1027.46" y="704.20" width="4.25" height="1.3" fill="#6e9de0"/>
<rect x="1043.37" y="356.65" width="1.80" height="348.85" fill="#3b5a8a"/>
<rect x="1038.82" y="356.45" width="4.85" height="349.05" fill="url(#face)"/>
<polygon points="1038.91,357.45 1039.72,356.45 1045.16,356.45 1043.87,357.45" fill="#466ca3"/>
<rect x="1039.22" y="704.20" width="4.25" height="1.3" fill="#6e9de0"/>
<rect x="1055.12" y="326.44" width="1.80" height="379.06" fill="#3b5a8a"/>
<rect x="1050.57" y="326.24" width="4.85" height="379.26" fill="url(#face)"/>
<polygon points="1050.67,327.24 1051.47,326.24 1056.92,326.24 1055.62,327.24" fill="#466ca3"/>
<rect x="1050.97" y="704.20" width="4.25" height="1.3" fill="#6e9de0"/>
<rect x="1066.88" y="182.62" width="1.80" height="522.88" fill="#3b5a8a"/>
<rect x="1062.33" y="182.42" width="4.85" height="523.08" fill="url(#face)"/>
<polygon points="1062.42,183.42 1063.23,182.42 1068.67,182.42 1067.38,183.42" fill="#466ca3"/>
<rect x="1062.73" y="704.20" width="4.25" height="1.3" fill="#6e9de0"/>
<rect x="1078.63" y="149.13" width="1.80" height="556.37" fill="#3b5a8a"/>
<rect x="1074.08" y="148.93" width="4.85" height="556.57" fill="url(#face)"/>
<polygon points="1074.18,149.93 1074.98,148.93 1080.43,148.93 1079.13,149.93" fill="#466ca3"/>
<rect x="1074.48" y="704.20" width="4.25" height="1.3" fill="#6e9de0"/>
<rect x="1090.38" y="116.95" width="1.80" height="588.55" fill="#3b5a8a"/>
<rect x="1085.84" y="116.75" width="4.85" height="588.75" fill="url(#face)"/>
<polygon points="1085.93,117.75 1086.74,116.75 1092.18,116.75 1090.88,117.75" fill="#466ca3"/>
<rect x="1086.24" y="704.20" width="4.25" height="1.3" fill="#6e9de0"/>
<rect x="1102.14" y="84.12" width="1.80" height="621.38" fill="#3b5a8a"/>
<rect x="1097.59" y="83.92" width="4.85" height="621.58" fill="url(#face)"/>
<polygon points="1097.69,84.92 1098.49,83.92 1103.94,83.92 1102.64,84.92" fill="#466ca3"/>
<rect x="1097.99" y="704.20" width="4.25" height="1.3" fill="#6e9de0"/>
<rect x="1113.90" y="84.12" width="1.80" height="621.38" fill="#3b5a8a"/>
<rect x="1109.35" y="83.92" width="4.85" height="621.58" fill="url(#face)"/>
<polygon points="1109.45,84.92 1110.25,83.92 1115.70,83.92 1114.40,84.92" fill="#466ca3"/>
<rect x="1109.75" y="704.20" width="4.25" height="1.3" fill="#6e9de0"/>
<rect x="1125.65" y="116.30" width="1.80" height="589.20" fill="#3b5a8a"/>
<rect x="1121.10" y="116.10" width="4.85" height="589.40" fill="url(#face)"/>
<polygon points="1121.20,117.10 1122.00,116.10 1127.45,116.10 1126.15,117.10" fill="#466ca3"/>
<rect x="1121.50" y="704.20" width="4.25" height="1.3" fill="#6e9de0"/>
<rect x="1137.41" y="157.01" width="1.80" height="548.49" fill="#3b5a8a"/>
<rect x="1132.86" y="156.81" width="4.85" height="548.69" fill="url(#face)"/>
<polygon points="1132.96,157.81 1133.76,156.81 1139.21,156.81 1137.91,157.81" fill="#466ca3"/>
<rect x="1133.26" y="704.20" width="4.25" height="1.3" fill="#6e9de0"/>
<rect x="1149.16" y="205.61" width="1.80" height="499.89" fill="#3b5a8a"/>
<rect x="1144.61" y="205.41" width="4.85" height="500.09" fill="url(#face)"/>
<polygon points="1144.71,206.41 1145.51,205.41 1150.96,205.41 1149.66,206.41" fill="#466ca3"/>
<rect x="1145.01" y="704.20" width="4.25" height="1.3" fill="#6e9de0"/>
<rect x="1160.92" y="260.11" width="1.80" height="445.39" fill="#3b5a8a"/>
<rect x="1156.37" y="259.91" width="4.85" height="445.59" fill="url(#face)"/>
<polygon points="1156.47,260.91 1157.27,259.91 1162.72,259.91 1161.42,260.91" fill="#466ca3"/>
<rect x="1156.77" y="704.20" width="4.25" height="1.3" fill="#6e9de0"/>
<rect x="1172.67" y="315.28" width="1.80" height="390.22" fill="#3b5a8a"/>
<rect x="1168.12" y="315.08" width="4.85" height="390.42" fill="url(#face)"/>
<polygon points="1168.22,316.08 1169.02,315.08 1174.47,315.08 1173.17,316.08" fill="#466ca3"/>
<rect x="1168.52" y="704.20" width="4.25" height="1.3" fill="#6e9de0"/>
<polyline points="57.70,706.35 1174.90,706.35 1179.80,702.90" fill="none" stroke="#0a0a0a" stroke-width="1.3" stroke-linejoin="miter"/>
<g font-family="'Liberation Sans', sans-serif" font-weight="bold" fill="#000">
<text x="66.40" y="30.9" font-size="15.7" textLength="59.0" lengthAdjust="spacingAndGlyphs">VOLUME</text>
<text x="128.80" y="30.9" font-size="15.7" textLength="100.2" lengthAdjust="spacingAndGlyphs">RESERVATÓRIO</text>
<text x="233.00" y="30.9" font-size="15.7" textLength="24.6" lengthAdjust="spacingAndGlyphs">RIO</text>
<text x="260.90" y="30.9" font-size="15.7" textLength="52.2" lengthAdjust="spacingAndGlyphs">MANSO</text>
<text x="49.75" y="709.25" font-size="9.0" text-anchor="end" textLength="4.72" lengthAdjust="spacingAndGlyphs" stroke="#000" stroke-width="0.15">0</text>
<text x="49.75" y="643.73" font-size="9.0" text-anchor="end" textLength="9.44" lengthAdjust="spacingAndGlyphs" stroke="#000" stroke-width="0.15">10</text>
<text x="49.75" y="578.21" font-size="9.0" text-anchor="end" textLength="9.44" lengthAdjust="spacingAndGlyphs" stroke="#000" stroke-width="0.15">20</text>
<text x="49.75" y="512.69" font-size="9.0" text-anchor="end" textLength="9.44" lengthAdjust="spacingAndGlyphs" stroke="#000" stroke-width="0.15">30</text>
<text x="49.75" y="447.17" font-size="9.0" text-anchor="end" textLength="9.44" lengthAdjust="spacingAndGlyphs" stroke="#000" stroke-width="0.15">40</text>
<text x="49.75" y="381.65" font-size="9.0" text-anchor="end" textLength="9.44" lengthAdjust="spacingAndGlyphs" stroke="#000" stroke-width="0.15">50</text>
<text x="49.75" y="316.13" font-size="9.0" text-anchor="end" textLength="9.44" lengthAdjust="spacingAndGlyphs" stroke="#000" stroke-width="0.15">60</text>
<text x="49.75" y="250.61" font-size="9.0" text-anchor="end" textLength="9.44" lengthAdjust="spacingAndGlyphs" stroke="#000" stroke-width="0.15">70</text>
<text x="49.75" y="185.09" font-size="9.0" text-anchor="end" textLength="9.44" lengthAdjust="spacingAndGlyphs" stroke="#000" stroke-width="0.15">80</text>
<text x="49.75" y="119.57" font-size="9.0" text-anchor="end" textLength="9.44" lengthAdjust="spacingAndGlyphs" stroke="#000" stroke-width="0.15">90</text>
<text x="49.75" y="54.05" font-size="9.0" text-anchor="end" textLength="14.16" lengthAdjust="spacingAndGlyphs" stroke="#000" stroke-width="0.15">100</text>
<text transform="translate(17.7,384.7) rotate(-90)" font-size="12.2" text-anchor="middle" textLength="65" lengthAdjust="spacingAndGlyphs">Volume (%)</text>
<text x="601.6" y="758.8" font-size="12.0" text-anchor="middle" textLength="25.9" lengthAdjust="spacingAndGlyphs">Data</text>
<g font-size="9.6" stroke="#000" stroke-width="0.14">
<text transform="translate(68.95,221.49) rotate(-90)" textLength="16.2" lengthAdjust="spacingAndGlyphs">72<tspan font-size="10.4">,</tspan>6</text>
<text transform="translate(80.70,191.32) rotate(-90)" textLength="16.2" lengthAdjust="spacingAndGlyphs">77<tspan font-size="10.4">,</tspan>2</text>
<text transform="translate(92.46,135.56) rotate(-90)" textLength="16.2" lengthAdjust="spacingAndGlyphs">85<tspan font-size="10.4">,</tspan>7</text>
<text transform="translate(104.21,67.33) rotate(-90)" textLength="16.2" lengthAdjust="spacingAndGlyphs">96<tspan font-size="10.4">,</tspan>1</text>
<text transform="translate(115.97,69.30) rotate(-90)" textLength="16.2" lengthAdjust="spacingAndGlyphs">95<tspan font-size="10.4">,</tspan>8</text>
<text transform="translate(127.73,87.67) rotate(-90)" textLength="16.2" lengthAdjust="spacingAndGlyphs">93<tspan font-size="10.4">,</tspan>0</text>
<text transform="translate(139.48,123.75) rotate(-90)" textLength="16.2" lengthAdjust="spacingAndGlyphs">87<tspan font-size="10.4">,</tspan>5</text>
<text transform="translate(151.24,140.81) rotate(-90)" textLength="16.2" lengthAdjust="spacingAndGlyphs">84<tspan font-size="10.4">,</tspan>9</text>
<text transform="translate(162.99,154.58) rotate(-90)" textLength="16.2" lengthAdjust="spacingAndGlyphs">82<tspan font-size="10.4">,</tspan>8</text>
<text transform="translate(174.75,175.57) rotate(-90)" textLength="16.2" lengthAdjust="spacingAndGlyphs">79<tspan font-size="10.4">,</tspan>6</text>
<text transform="translate(186.50,199.19) rotate(-90)" textLength="16.2" lengthAdjust="spacingAndGlyphs">76<tspan font-size="10.4">,</tspan>0</text>
<text transform="translate(198.26,193.94) rotate(-90)" textLength="16.2" lengthAdjust="spacingAndGlyphs">76<tspan font-size="10.4">,</tspan>8</text>
<text transform="translate(210.01,181.48) rotate(-90)" textLength="16.2" lengthAdjust="spacingAndGlyphs">78<tspan font-size="10.4">,</tspan>7</text>
<text transform="translate(221.77,206.41) rotate(-90)" textLength="16.2" lengthAdjust="spacingAndGlyphs">74<tspan font-size="10.4">,</tspan>9</text>
<text transform="translate(233.52,191.97) rotate(-90)" textLength="16.2" lengthAdjust="spacingAndGlyphs">77<tspan font-size="10.4">,</tspan>1</text>
<text transform="translate(245.28,201.16) rotate(-90)" textLength="16.2" lengthAdjust="spacingAndGlyphs">75<tspan font-size="10.4">,</tspan>7</text>
<text transform="translate(257.03,212.97) rotate(-90)" textLength="16.2" lengthAdjust="spacingAndGlyphs">73<tspan font-size="10.4">,</tspan>9</text>
<text transform="translate(268.79,239.21) rotate(-90)" textLength="16.2" lengthAdjust="spacingAndGlyphs">69<tspan font-size="10.4">,</tspan>9</text>
<text transform="translate(280.54,267.41) rotate(-90)" textLength="16.2" lengthAdjust="spacingAndGlyphs">65<tspan font-size="10.4">,</tspan>6</text>
<text transform="translate(292.30,300.87) rotate(-90)" textLength="16.2" lengthAdjust="spacingAndGlyphs">60<tspan font-size="10.4">,</tspan>5</text>
<text transform="translate(304.05,341.54) rotate(-90)" textLength="16.2" lengthAdjust="spacingAndGlyphs">54<tspan font-size="10.4">,</tspan>3</text>
<text transform="translate(315.81,378.93) rotate(-90)" textLength="16.2" lengthAdjust="spacingAndGlyphs">48<tspan font-size="10.4">,</tspan>6</text>
<text transform="translate(327.56,410.42) rotate(-90)" textLength="16.2" lengthAdjust="spacingAndGlyphs">43<tspan font-size="10.4">,</tspan>8</text>
<text transform="translate(339.31,409.11) rotate(-90)" textLength="16.2" lengthAdjust="spacingAndGlyphs">44<tspan font-size="10.4">,</tspan>0</text>
<text transform="translate(351.07,346.13) rotate(-90)" textLength="16.2" lengthAdjust="spacingAndGlyphs">53<tspan font-size="10.4">,</tspan>6</text>
<text transform="translate(362.82,136.87) rotate(-90)" textLength="16.2" lengthAdjust="spacingAndGlyphs">85<tspan font-size="10.4">,</tspan>5</text>
<text transform="translate(374.58,41.75) rotate(-90)" textLength="20.8" lengthAdjust="spacingAndGlyphs">100<tspan font-size="10.4">,</tspan>0</text>
<text transform="translate(386.34,41.75) rotate(-90)" textLength="20.8" lengthAdjust="spacingAndGlyphs">100<tspan font-size="10.4">,</tspan>0</text>
<text transform="translate(398.09,41.75) rotate(-90)" textLength="20.8" lengthAdjust="spacingAndGlyphs">100<tspan font-size="10.4">,</tspan>0</text>
<text transform="translate(409.85,43.06) rotate(-90)" textLength="16.2" lengthAdjust="spacingAndGlyphs">99<tspan font-size="10.4">,</tspan>8</text>
<text transform="translate(421.60,59.46) rotate(-90)" textLength="16.2" lengthAdjust="spacingAndGlyphs">97<tspan font-size="10.4">,</tspan>3</text>
<text transform="translate(433.36,92.92) rotate(-90)" textLength="16.2" lengthAdjust="spacingAndGlyphs">92<tspan font-size="10.4">,</tspan>2</text>
<text transform="translate(445.11,126.37) rotate(-90)" textLength="16.2" lengthAdjust="spacingAndGlyphs">87<tspan font-size="10.4">,</tspan>1</text>
<text transform="translate(456.87,165.08) rotate(-90)" textLength="16.2" lengthAdjust="spacingAndGlyphs">81<tspan font-size="10.4">,</tspan>2</text>
<text transform="translate(468.62,199.85) rotate(-90)" textLength="16.2" lengthAdjust="spacingAndGlyphs">75<tspan font-size="10.4">,</tspan>9</text>
<text transform="translate(480.38,214.28) rotate(-90)" textLength="16.2" lengthAdjust="spacingAndGlyphs">73<tspan font-size="10.4">,</tspan>7</text>
<text transform="translate(492.13,188.04) rotate(-90)" textLength="16.2" lengthAdjust="spacingAndGlyphs">77<tspan font-size="10.4">,</tspan>7</text>
<text transform="translate(503.88,159.83) rotate(-90)" textLength="16.2" lengthAdjust="spacingAndGlyphs">82<tspan font-size="10.4">,</tspan>0</text>
<text transform="translate(515.64,72.58) rotate(-90)" textLength="16.2" lengthAdjust="spacingAndGlyphs">95<tspan font-size="10.4">,</tspan>3</text>
<text transform="translate(527.39,41.75) rotate(-90)" textLength="20.8" lengthAdjust="spacingAndGlyphs">100<tspan font-size="10.4">,</tspan>0</text>
<text transform="translate(539.15,55.53) rotate(-90)" textLength="16.2" lengthAdjust="spacingAndGlyphs">97<tspan font-size="10.4">,</tspan>9</text>
<text transform="translate(550.90,83.08) rotate(-90)" textLength="16.2" lengthAdjust="spacingAndGlyphs">93<tspan font-size="10.4">,</tspan>7</text>
<text transform="translate(562.66,112.60) rotate(-90)" textLength="16.2" lengthAdjust="spacingAndGlyphs">89<tspan font-size="10.4">,</tspan>2</text>
<text transform="translate(574.41,151.96) rotate(-90)" textLength="16.2" lengthAdjust="spacingAndGlyphs">83<tspan font-size="10.4">,</tspan>2</text>
<text transform="translate(586.17,195.91) rotate(-90)" textLength="16.2" lengthAdjust="spacingAndGlyphs">76<tspan font-size="10.4">,</tspan>5</text>
<text transform="translate(597.92,245.11) rotate(-90)" textLength="16.2" lengthAdjust="spacingAndGlyphs">69<tspan font-size="10.4">,</tspan>0</text>
<text transform="translate(609.68,228.05) rotate(-90)" textLength="16.2" lengthAdjust="spacingAndGlyphs">71<tspan font-size="10.4">,</tspan>6</text>
<text transform="translate(621.43,212.97) rotate(-90)" textLength="16.2" lengthAdjust="spacingAndGlyphs">73<tspan font-size="10.4">,</tspan>9</text>
<text transform="translate(633.19,119.81) rotate(-90)" textLength="16.2" lengthAdjust="spacingAndGlyphs">88<tspan font-size="10.4">,</tspan>1</text>
<text transform="translate(644.94,41.75) rotate(-90)" textLength="20.8" lengthAdjust="spacingAndGlyphs">100<tspan font-size="10.4">,</tspan>0</text>
<text transform="translate(656.70,41.75) rotate(-90)" textLength="20.8" lengthAdjust="spacingAndGlyphs">100<tspan font-size="10.4">,</tspan>0</text>
<text transform="translate(668.45,41.75) rotate(-90)" textLength="20.8" lengthAdjust="spacingAndGlyphs">100<tspan font-size="10.4">,</tspan>0</text>
<text transform="translate(680.21,41.75) rotate(-90)" textLength="20.8" lengthAdjust="spacingAndGlyphs">100<tspan font-size="10.4">,</tspan>0</text>
<text transform="translate(691.96,41.75) rotate(-90)" textLength="20.8" lengthAdjust="spacingAndGlyphs">100<tspan font-size="10.4">,</tspan>0</text>
<text transform="translate(703.72,41.75) rotate(-90)" textLength="20.8" lengthAdjust="spacingAndGlyphs">100<tspan font-size="10.4">,</tspan>0</text>
<text transform="translate(715.48,60.12) rotate(-90)" textLength="16.2" lengthAdjust="spacingAndGlyphs">97<tspan font-size="10.4">,</tspan>2</text>
<text transform="translate(727.23,92.92) rotate(-90)" textLength="16.2" lengthAdjust="spacingAndGlyphs">92<tspan font-size="10.4">,</tspan>2</text>
<text transform="translate(738.99,127.03) rotate(-90)" textLength="16.2" lengthAdjust="spacingAndGlyphs">87<tspan font-size="10.4">,</tspan>0</text>
<text transform="translate(750.74,148.02) rotate(-90)" textLength="16.2" lengthAdjust="spacingAndGlyphs">83<tspan font-size="10.4">,</tspan>8</text>
<text transform="translate(762.50,135.56) rotate(-90)" textLength="16.2" lengthAdjust="spacingAndGlyphs">85<tspan font-size="10.4">,</tspan>7</text>
<text transform="translate(774.25,87.67) rotate(-90)" textLength="16.2" lengthAdjust="spacingAndGlyphs">93<tspan font-size="10.4">,</tspan>0</text>
<text transform="translate(786.00,41.75) rotate(-90)" textLength="20.8" lengthAdjust="spacingAndGlyphs">100<tspan font-size="10.4">,</tspan>0</text>
<text transform="translate(797.76,41.75) rotate(-90)" textLength="20.8" lengthAdjust="spacingAndGlyphs">100<tspan font-size="10.4">,</tspan>0</text>
<text transform="translate(809.51,41.75) rotate(-90)" textLength="20.8" lengthAdjust="spacingAndGlyphs">100<tspan font-size="10.4">,</tspan>0</text>
<text transform="translate(821.27,41.75) rotate(-90)" textLength="20.8" lengthAdjust="spacingAndGlyphs">100<tspan font-size="10.4">,</tspan>0</text>
<text transform="translate(833.02,47.00) rotate(-90)" textLength="16.2" lengthAdjust="spacingAndGlyphs">99<tspan font-size="10.4">,</tspan>2</text>
<text transform="translate(844.78,62.09) rotate(-90)" textLength="16.2" lengthAdjust="spacingAndGlyphs">96<tspan font-size="10.4">,</tspan>9</text>
<text transform="translate(856.53,94.89) rotate(-90)" textLength="16.2" lengthAdjust="spacingAndGlyphs">91<tspan font-size="10.4">,</tspan>9</text>
<text transform="translate(868.29,134.25) rotate(-90)" textLength="16.2" lengthAdjust="spacingAndGlyphs">85<tspan font-size="10.4">,</tspan>9</text>
<text transform="translate(880.04,182.79) rotate(-90)" textLength="16.2" lengthAdjust="spacingAndGlyphs">78<tspan font-size="10.4">,</tspan>5</text>
<text transform="translate(891.80,221.49) rotate(-90)" textLength="16.2" lengthAdjust="spacingAndGlyphs">72<tspan font-size="10.4">,</tspan>6</text>
<text transform="translate(903.55,243.14) rotate(-90)" textLength="16.2" lengthAdjust="spacingAndGlyphs">69<tspan font-size="10.4">,</tspan>3</text>
<text transform="translate(915.31,272.01) rotate(-90)" textLength="16.2" lengthAdjust="spacingAndGlyphs">64<tspan font-size="10.4">,</tspan>9</text>
<text transform="translate(927.06,193.29) rotate(-90)" textLength="16.2" lengthAdjust="spacingAndGlyphs">76<tspan font-size="10.4">,</tspan>9</text>
<text transform="translate(938.82,170.33) rotate(-90)" textLength="16.2" lengthAdjust="spacingAndGlyphs">80<tspan font-size="10.4">,</tspan>4</text>
<text transform="translate(950.58,115.88) rotate(-90)" textLength="16.2" lengthAdjust="spacingAndGlyphs">88<tspan font-size="10.4">,</tspan>7</text>
<text transform="translate(962.33,120.47) rotate(-90)" textLength="16.2" lengthAdjust="spacingAndGlyphs">88<tspan font-size="10.4">,</tspan>0</text>
<text transform="translate(974.09,153.27) rotate(-90)" textLength="16.2" lengthAdjust="spacingAndGlyphs">83<tspan font-size="10.4">,</tspan>0</text>
<text transform="translate(985.84,193.94) rotate(-90)" textLength="16.2" lengthAdjust="spacingAndGlyphs">76<tspan font-size="10.4">,</tspan>8</text>
<text transform="translate(997.60,235.27) rotate(-90)" textLength="16.2" lengthAdjust="spacingAndGlyphs">70<tspan font-size="10.4">,</tspan>5</text>
<text transform="translate(1009.35,283.16) rotate(-90)" textLength="16.2" lengthAdjust="spacingAndGlyphs">63<tspan font-size="10.4">,</tspan>2</text>
<text transform="translate(1021.11,342.85) rotate(-90)" textLength="16.2" lengthAdjust="spacingAndGlyphs">54<tspan font-size="10.4">,</tspan>1</text>
<text transform="translate(1032.86,367.78) rotate(-90)" textLength="16.2" lengthAdjust="spacingAndGlyphs">50<tspan font-size="10.4">,</tspan>3</text>
<text transform="translate(1044.62,350.07) rotate(-90)" textLength="16.2" lengthAdjust="spacingAndGlyphs">53<tspan font-size="10.4">,</tspan>0</text>
<text transform="translate(1056.37,319.89) rotate(-90)" textLength="16.2" lengthAdjust="spacingAndGlyphs">57<tspan font-size="10.4">,</tspan>6</text>
<text transform="translate(1068.12,176.23) rotate(-90)" textLength="16.2" lengthAdjust="spacingAndGlyphs">79<tspan font-size="10.4">,</tspan>5</text>
<text transform="translate(1079.88,142.77) rotate(-90)" textLength="16.2" lengthAdjust="spacingAndGlyphs">84<tspan font-size="10.4">,</tspan>6</text>
<text transform="translate(1091.63,110.63) rotate(-90)" textLength="16.2" lengthAdjust="spacingAndGlyphs">89<tspan font-size="10.4">,</tspan>5</text>
<text transform="translate(1103.39,77.83) rotate(-90)" textLength="16.2" lengthAdjust="spacingAndGlyphs">94<tspan font-size="10.4">,</tspan>5</text>
<text transform="translate(1115.15,77.83) rotate(-90)" textLength="16.2" lengthAdjust="spacingAndGlyphs">94<tspan font-size="10.4">,</tspan>5</text>
<text transform="translate(1126.90,109.97) rotate(-90)" textLength="16.2" lengthAdjust="spacingAndGlyphs">89<tspan font-size="10.4">,</tspan>6</text>
<text transform="translate(1138.66,150.65) rotate(-90)" textLength="16.2" lengthAdjust="spacingAndGlyphs">83<tspan font-size="10.4">,</tspan>4</text>
<text transform="translate(1150.41,199.19) rotate(-90)" textLength="16.2" lengthAdjust="spacingAndGlyphs">76<tspan font-size="10.4">,</tspan>0</text>
<text transform="translate(1162.17,253.64) rotate(-90)" textLength="16.2" lengthAdjust="spacingAndGlyphs">67<tspan font-size="10.4">,</tspan>7</text>
<text transform="translate(1173.92,308.74) rotate(-90)" textLength="16.2" lengthAdjust="spacingAndGlyphs">59<tspan font-size="10.4">,</tspan>3</text>
</g>
<g font-size="8.75" text-anchor="end" letter-spacing="0.17" stroke="#000" stroke-width="0.14">
<text transform="translate(67.25,718.50) rotate(-45)">01<tspan font-size="11.5" dy="1.1">/</tspan><tspan dy="-1.1">01</tspan><tspan font-size="11.5" dy="1.1">/</tspan><tspan dy="-1.1">18</tspan></text>
<text transform="translate(79.00,718.50) rotate(-45)">01<tspan font-size="11.5" dy="1.1">/</tspan><tspan dy="-1.1">02</tspan><tspan font-size="11.5" dy="1.1">/</tspan><tspan dy="-1.1">18</tspan></text>
<text transform="translate(90.76,718.50) rotate(-45)">01<tspan font-size="11.5" dy="1.1">/</tspan><tspan dy="-1.1">03</tspan><tspan font-size="11.5" dy="1.1">/</tspan><tspan dy="-1.1">18</tspan></text>
<text transform="translate(102.51,718.50) rotate(-45)">01<tspan font-size="11.5" dy="1.1">/</tspan><tspan dy="-1.1">04</tspan><tspan font-size="11.5" dy="1.1">/</tspan><tspan dy="-1.1">18</tspan></text>
<text transform="translate(114.27,718.50) rotate(-45)">01<tspan font-size="11.5" dy="1.1">/</tspan><tspan dy="-1.1">05</tspan><tspan font-size="11.5" dy="1.1">/</tspan><tspan dy="-1.1">18</tspan></text>
<text transform="translate(126.03,718.50) rotate(-45)">01<tspan font-size="11.5" dy="1.1">/</tspan><tspan dy="-1.1">06</tspan><tspan font-size="11.5" dy="1.1">/</tspan><tspan dy="-1.1">18</tspan></text>
<text transform="translate(137.78,718.50) rotate(-45)">01<tspan font-size="11.5" dy="1.1">/</tspan><tspan dy="-1.1">07</tspan><tspan font-size="11.5" dy="1.1">/</tspan><tspan dy="-1.1">18</tspan></text>
<text transform="translate(149.53,718.50) rotate(-45)">01<tspan font-size="11.5" dy="1.1">/</tspan><tspan dy="-1.1">08</tspan><tspan font-size="11.5" dy="1.1">/</tspan><tspan dy="-1.1">18</tspan></text>
<text transform="translate(161.29,718.50) rotate(-45)">01<tspan font-size="11.5" dy="1.1">/</tspan><tspan dy="-1.1">09</tspan><tspan font-size="11.5" dy="1.1">/</tspan><tspan dy="-1.1">18</tspan></text>
<text transform="translate(173.04,718.50) rotate(-45)">01<tspan font-size="11.5" dy="1.1">/</tspan><tspan dy="-1.1">10</tspan><tspan font-size="11.5" dy="1.1">/</tspan><tspan dy="-1.1">18</tspan></text>
<text transform="translate(184.80,718.50) rotate(-45)">01<tspan font-size="11.5" dy="1.1">/</tspan><tspan dy="-1.1">11</tspan><tspan font-size="11.5" dy="1.1">/</tspan><tspan dy="-1.1">18</tspan></text>
<text transform="translate(196.56,718.50) rotate(-45)">01<tspan font-size="11.5" dy="1.1">/</tspan><tspan dy="-1.1">12</tspan><tspan font-size="11.5" dy="1.1">/</tspan><tspan dy="-1.1">18</tspan></text>
<text transform="translate(208.31,718.50) rotate(-45)">01<tspan font-size="11.5" dy="1.1">/</tspan><tspan dy="-1.1">01</tspan><tspan font-size="11.5" dy="1.1">/</tspan><tspan dy="-1.1">19</tspan></text>
<text transform="translate(220.06,718.50) rotate(-45)">01<tspan font-size="11.5" dy="1.1">/</tspan><tspan dy="-1.1">02</tspan><tspan font-size="11.5" dy="1.1">/</tspan><tspan dy="-1.1">19</tspan></text>
<text transform="translate(231.82,718.50) rotate(-45)">01<tspan font-size="11.5" dy="1.1">/</tspan><tspan dy="-1.1">03</tspan><tspan font-size="11.5" dy="1.1">/</tspan><tspan dy="-1.1">19</tspan></text>
<text transform="translate(243.58,718.50) rotate(-45)">01<tspan font-size="11.5" dy="1.1">/</tspan><tspan dy="-1.1">04</tspan><tspan font-size="11.5" dy="1.1">/</tspan><tspan dy="-1.1">19</tspan></text>
<text transform="translate(255.33,718.50) rotate(-45)">01<tspan font-size="11.5" dy="1.1">/</tspan><tspan dy="-1.1">05</tspan><tspan font-size="11.5" dy="1.1">/</tspan><tspan dy="-1.1">19</tspan></text>
<text transform="translate(267.09,718.50) rotate(-45)">01<tspan font-size="11.5" dy="1.1">/</tspan><tspan dy="-1.1">06</tspan><tspan font-size="11.5" dy="1.1">/</tspan><tspan dy="-1.1">19</tspan></text>
<text transform="translate(278.84,718.50) rotate(-45)">01<tspan font-size="11.5" dy="1.1">/</tspan><tspan dy="-1.1">07</tspan><tspan font-size="11.5" dy="1.1">/</tspan><tspan dy="-1.1">19</tspan></text>
<text transform="translate(290.60,718.50) rotate(-45)">01<tspan font-size="11.5" dy="1.1">/</tspan><tspan dy="-1.1">08</tspan><tspan font-size="11.5" dy="1.1">/</tspan><tspan dy="-1.1">19</tspan></text>
<text transform="translate(302.35,718.50) rotate(-45)">01<tspan font-size="11.5" dy="1.1">/</tspan><tspan dy="-1.1">09</tspan><tspan font-size="11.5" dy="1.1">/</tspan><tspan dy="-1.1">19</tspan></text>
<text transform="translate(314.11,718.50) rotate(-45)">01<tspan font-size="11.5" dy="1.1">/</tspan><tspan dy="-1.1">10</tspan><tspan font-size="11.5" dy="1.1">/</tspan><tspan dy="-1.1">19</tspan></text>
<text transform="translate(325.86,718.50) rotate(-45)">01<tspan font-size="11.5" dy="1.1">/</tspan><tspan dy="-1.1">11</tspan><tspan font-size="11.5" dy="1.1">/</tspan><tspan dy="-1.1">19</tspan></text>
<text transform="translate(337.62,718.50) rotate(-45)">01<tspan font-size="11.5" dy="1.1">/</tspan><tspan dy="-1.1">12</tspan><tspan font-size="11.5" dy="1.1">/</tspan><tspan dy="-1.1">19</tspan></text>
<text transform="translate(349.37,718.50) rotate(-45)">01<tspan font-size="11.5" dy="1.1">/</tspan><tspan dy="-1.1">01</tspan><tspan font-size="11.5" dy="1.1">/</tspan><tspan dy="-1.1">20</tspan></text>
<text transform="translate(361.12,718.50) rotate(-45)">01<tspan font-size="11.5" dy="1.1">/</tspan><tspan dy="-1.1">02</tspan><tspan font-size="11.5" dy="1.1">/</tspan><tspan dy="-1.1">20</tspan></text>
<text transform="translate(372.88,718.50) rotate(-45)">01<tspan font-size="11.5" dy="1.1">/</tspan><tspan dy="-1.1">03</tspan><tspan font-size="11.5" dy="1.1">/</tspan><tspan dy="-1.1">20</tspan></text>
<text transform="translate(384.64,718.50) rotate(-45)">01<tspan font-size="11.5" dy="1.1">/</tspan><tspan dy="-1.1">04</tspan><tspan font-size="11.5" dy="1.1">/</tspan><tspan dy="-1.1">20</tspan></text>
<text transform="translate(396.39,718.50) rotate(-45)">01<tspan font-size="11.5" dy="1.1">/</tspan><tspan dy="-1.1">05</tspan><tspan font-size="11.5" dy="1.1">/</tspan><tspan dy="-1.1">20</tspan></text>
<text transform="translate(408.15,718.50) rotate(-45)">01<tspan font-size="11.5" dy="1.1">/</tspan><tspan dy="-1.1">06</tspan><tspan font-size="11.5" dy="1.1">/</tspan><tspan dy="-1.1">20</tspan></text>
<text transform="translate(419.90,718.50) rotate(-45)">01<tspan font-size="11.5" dy="1.1">/</tspan><tspan dy="-1.1">07</tspan><tspan font-size="11.5" dy="1.1">/</tspan><tspan dy="-1.1">20</tspan></text>
<text transform="translate(431.66,718.50) rotate(-45)">01<tspan font-size="11.5" dy="1.1">/</tspan><tspan dy="-1.1">08</tspan><tspan font-size="11.5" dy="1.1">/</tspan><tspan dy="-1.1">20</tspan></text>
<text transform="translate(443.41,718.50) rotate(-45)">01<tspan font-size="11.5" dy="1.1">/</tspan><tspan dy="-1.1">09</tspan><tspan font-size="11.5" dy="1.1">/</tspan><tspan dy="-1.1">20</tspan></text>
<text transform="translate(455.17,718.50) rotate(-45)">01<tspan font-size="11.5" dy="1.1">/</tspan><tspan dy="-1.1">10</tspan><tspan font-size="11.5" dy="1.1">/</tspan><tspan dy="-1.1">20</tspan></text>
<text transform="translate(466.92,718.50) rotate(-45)">01<tspan font-size="11.5" dy="1.1">/</tspan><tspan dy="-1.1">11</tspan><tspan font-size="11.5" dy="1.1">/</tspan><tspan dy="-1.1">20</tspan></text>
<text transform="translate(478.68,718.50) rotate(-45)">01<tspan font-size="11.5" dy="1.1">/</tspan><tspan dy="-1.1">12</tspan><tspan font-size="11.5" dy="1.1">/</tspan><tspan dy="-1.1">20</tspan></text>
<text transform="translate(490.43,718.50) rotate(-45)">01<tspan font-size="11.5" dy="1.1">/</tspan><tspan dy="-1.1">01</tspan><tspan font-size="11.5" dy="1.1">/</tspan><tspan dy="-1.1">21</tspan></text>
<text transform="translate(502.19,718.50) rotate(-45)">01<tspan font-size="11.5" dy="1.1">/</tspan><tspan dy="-1.1">02</tspan><tspan font-size="11.5" dy="1.1">/</tspan><tspan dy="-1.1">21</tspan></text>
<text transform="translate(513.94,718.50) rotate(-45)">01<tspan font-size="11.5" dy="1.1">/</tspan><tspan dy="-1.1">03</tspan><tspan font-size="11.5" dy="1.1">/</tspan><tspan dy="-1.1">21</tspan></text>
<text transform="translate(525.70,718.50) rotate(-45)">01<tspan font-size="11.5" dy="1.1">/</tspan><tspan dy="-1.1">04</tspan><tspan font-size="11.5" dy="1.1">/</tspan><tspan dy="-1.1">21</tspan></text>
<text transform="translate(537.45,718.50) rotate(-45)">01<tspan font-size="11.5" dy="1.1">/</tspan><tspan dy="-1.1">05</tspan><tspan font-size="11.5" dy="1.1">/</tspan><tspan dy="-1.1">21</tspan></text>
<text transform="translate(549.21,718.50) rotate(-45)">01<tspan font-size="11.5" dy="1.1">/</tspan><tspan dy="-1.1">06</tspan><tspan font-size="11.5" dy="1.1">/</tspan><tspan dy="-1.1">21</tspan></text>
<text transform="translate(560.96,718.50) rotate(-45)">01<tspan font-size="11.5" dy="1.1">/</tspan><tspan dy="-1.1">07</tspan><tspan font-size="11.5" dy="1.1">/</tspan><tspan dy="-1.1">21</tspan></text>
<text transform="translate(572.72,718.50) rotate(-45)">01<tspan font-size="11.5" dy="1.1">/</tspan><tspan dy="-1.1">08</tspan><tspan font-size="11.5" dy="1.1">/</tspan><tspan dy="-1.1">21</tspan></text>
<text transform="translate(584.47,718.50) rotate(-45)">01<tspan font-size="11.5" dy="1.1">/</tspan><tspan dy="-1.1">09</tspan><tspan font-size="11.5" dy="1.1">/</tspan><tspan dy="-1.1">21</tspan></text>
<text transform="translate(596.23,718.50) rotate(-45)">01<tspan font-size="11.5" dy="1.1">/</tspan><tspan dy="-1.1">10</tspan><tspan font-size="11.5" dy="1.1">/</tspan><tspan dy="-1.1">21</tspan></text>
<text transform="translate(607.98,718.50) rotate(-45)">01<tspan font-size="11.5" dy="1.1">/</tspan><tspan dy="-1.1">11</tspan><tspan font-size="11.5" dy="1.1">/</tspan><tspan dy="-1.1">21</tspan></text>
<text transform="translate(619.74,718.50) rotate(-45)">01<tspan font-size="11.5" dy="1.1">/</tspan><tspan dy="-1.1">12</tspan><tspan font-size="11.5" dy="1.1">/</tspan><tspan dy="-1.1">21</tspan></text>
<text transform="translate(631.49,718.50) rotate(-45)">01<tspan font-size="11.5" dy="1.1">/</tspan><tspan dy="-1.1">01</tspan><tspan font-size="11.5" dy="1.1">/</tspan><tspan dy="-1.1">22</tspan></text>
<text transform="translate(643.25,718.50) rotate(-45)">01<tspan font-size="11.5" dy="1.1">/</tspan><tspan dy="-1.1">02</tspan><tspan font-size="11.5" dy="1.1">/</tspan><tspan dy="-1.1">22</tspan></text>
<text transform="translate(655.00,718.50) rotate(-45)">01<tspan font-size="11.5" dy="1.1">/</tspan><tspan dy="-1.1">03</tspan><tspan font-size="11.5" dy="1.1">/</tspan><tspan dy="-1.1">22</tspan></text>
<text transform="translate(666.75,718.50) rotate(-45)">01<tspan font-size="11.5" dy="1.1">/</tspan><tspan dy="-1.1">04</tspan><tspan font-size="11.5" dy="1.1">/</tspan><tspan dy="-1.1">22</tspan></text>
<text transform="translate(678.51,718.50) rotate(-45)">01<tspan font-size="11.5" dy="1.1">/</tspan><tspan dy="-1.1">05</tspan><tspan font-size="11.5" dy="1.1">/</tspan><tspan dy="-1.1">22</tspan></text>
<text transform="translate(690.26,718.50) rotate(-45)">01<tspan font-size="11.5" dy="1.1">/</tspan><tspan dy="-1.1">06</tspan><tspan font-size="11.5" dy="1.1">/</tspan><tspan dy="-1.1">22</tspan></text>
<text transform="translate(702.02,718.50) rotate(-45)">01<tspan font-size="11.5" dy="1.1">/</tspan><tspan dy="-1.1">07</tspan><tspan font-size="11.5" dy="1.1">/</tspan><tspan dy="-1.1">22</tspan></text>
<text transform="translate(713.78,718.50) rotate(-45)">01<tspan font-size="11.5" dy="1.1">/</tspan><tspan dy="-1.1">08</tspan><tspan font-size="11.5" dy="1.1">/</tspan><tspan dy="-1.1">22</tspan></text>
<text transform="translate(725.53,718.50) rotate(-45)">01<tspan font-size="11.5" dy="1.1">/</tspan><tspan dy="-1.1">09</tspan><tspan font-size="11.5" dy="1.1">/</tspan><tspan dy="-1.1">22</tspan></text>
<text transform="translate(737.29,718.50) rotate(-45)">01<tspan font-size="11.5" dy="1.1">/</tspan><tspan dy="-1.1">10</tspan><tspan font-size="11.5" dy="1.1">/</tspan><tspan dy="-1.1">22</tspan></text>
<text transform="translate(749.04,718.50) rotate(-45)">01<tspan font-size="11.5" dy="1.1">/</tspan><tspan dy="-1.1">11</tspan><tspan font-size="11.5" dy="1.1">/</tspan><tspan dy="-1.1">22</tspan></text>
<text transform="translate(760.80,718.50) rotate(-45)">01<tspan font-size="11.5" dy="1.1">/</tspan><tspan dy="-1.1">12</tspan><tspan font-size="11.5" dy="1.1">/</tspan><tspan dy="-1.1">22</tspan></text>
<text transform="translate(772.55,718.50) rotate(-45)">01<tspan font-size="11.5" dy="1.1">/</tspan><tspan dy="-1.1">01</tspan><tspan font-size="11.5" dy="1.1">/</tspan><tspan dy="-1.1">23</tspan></text>
<text transform="translate(784.31,718.50) rotate(-45)">01<tspan font-size="11.5" dy="1.1">/</tspan><tspan dy="-1.1">02</tspan><tspan font-size="11.5" dy="1.1">/</tspan><tspan dy="-1.1">23</tspan></text>
<text transform="translate(796.06,718.50) rotate(-45)">01<tspan font-size="11.5" dy="1.1">/</tspan><tspan dy="-1.1">03</tspan><tspan font-size="11.5" dy="1.1">/</tspan><tspan dy="-1.1">23</tspan></text>
<text transform="translate(807.82,718.50) rotate(-45)">01<tspan font-size="11.5" dy="1.1">/</tspan><tspan dy="-1.1">04</tspan><tspan font-size="11.5" dy="1.1">/</tspan><tspan dy="-1.1">23</tspan></text>
<text transform="translate(819.57,718.50) rotate(-45)">01<tspan font-size="11.5" dy="1.1">/</tspan><tspan dy="-1.1">05</tspan><tspan font-size="11.5" dy="1.1">/</tspan><tspan dy="-1.1">23</tspan></text>
<text transform="translate(831.33,718.50) rotate(-45)">01<tspan font-size="11.5" dy="1.1">/</tspan><tspan dy="-1.1">06</tspan><tspan font-size="11.5" dy="1.1">/</tspan><tspan dy="-1.1">23</tspan></text>
<text transform="translate(843.08,718.50) rotate(-45)">01<tspan font-size="11.5" dy="1.1">/</tspan><tspan dy="-1.1">07</tspan><tspan font-size="11.5" dy="1.1">/</tspan><tspan dy="-1.1">23</tspan></text>
<text transform="translate(854.84,718.50) rotate(-45)">01<tspan font-size="11.5" dy="1.1">/</tspan><tspan dy="-1.1">08</tspan><tspan font-size="11.5" dy="1.1">/</tspan><tspan dy="-1.1">23</tspan></text>
<text transform="translate(866.59,718.50) rotate(-45)">01<tspan font-size="11.5" dy="1.1">/</tspan><tspan dy="-1.1">09</tspan><tspan font-size="11.5" dy="1.1">/</tspan><tspan dy="-1.1">23</tspan></text>
<text transform="translate(878.35,718.50) rotate(-45)">01<tspan font-size="11.5" dy="1.1">/</tspan><tspan dy="-1.1">10</tspan><tspan font-size="11.5" dy="1.1">/</tspan><tspan dy="-1.1">23</tspan></text>
<text transform="translate(890.10,718.50) rotate(-45)">01<tspan font-size="11.5" dy="1.1">/</tspan><tspan dy="-1.1">11</tspan><tspan font-size="11.5" dy="1.1">/</tspan><tspan dy="-1.1">23</tspan></text>
<text transform="translate(901.86,718.50) rotate(-45)">01<tspan font-size="11.5" dy="1.1">/</tspan><tspan dy="-1.1">12</tspan><tspan font-size="11.5" dy="1.1">/</tspan><tspan dy="-1.1">23</tspan></text>
<text transform="translate(913.61,718.50) rotate(-45)">01<tspan font-size="11.5" dy="1.1">/</tspan><tspan dy="-1.1">01</tspan><tspan font-size="11.5" dy="1.1">/</tspan><tspan dy="-1.1">24</tspan></text>
<text transform="translate(925.37,718.50) rotate(-45)">01<tspan font-size="11.5" dy="1.1">/</tspan><tspan dy="-1.1">02</tspan><tspan font-size="11.5" dy="1.1">/</tspan><tspan dy="-1.1">24</tspan></text>
<text transform="translate(937.12,718.50) rotate(-45)">01<tspan font-size="11.5" dy="1.1">/</tspan><tspan dy="-1.1">03</tspan><tspan font-size="11.5" dy="1.1">/</tspan><tspan dy="-1.1">24</tspan></text>
<text transform="translate(948.88,718.50) rotate(-45)">01<tspan font-size="11.5" dy="1.1">/</tspan><tspan dy="-1.1">04</tspan><tspan font-size="11.5" dy="1.1">/</tspan><tspan dy="-1.1">24</tspan></text>
<text transform="translate(960.63,718.50) rotate(-45)">01<tspan font-size="11.5" dy="1.1">/</tspan><tspan dy="-1.1">05</tspan><tspan font-size="11.5" dy="1.1">/</tspan><tspan dy="-1.1">24</tspan></text>
<text transform="translate(972.39,718.50) rotate(-45)">01<tspan font-size="11.5" dy="1.1">/</tspan><tspan dy="-1.1">06</tspan><tspan font-size="11.5" dy="1.1">/</tspan><tspan dy="-1.1">24</tspan></text>
<text transform="translate(984.14,718.50) rotate(-45)">01<tspan font-size="11.5" dy="1.1">/</tspan><tspan dy="-1.1">07</tspan><tspan font-size="11.5" dy="1.1">/</tspan><tspan dy="-1.1">24</tspan></text>
<text transform="translate(995.90,718.50) rotate(-45)">01<tspan font-size="11.5" dy="1.1">/</tspan><tspan dy="-1.1">08</tspan><tspan font-size="11.5" dy="1.1">/</tspan><tspan dy="-1.1">24</tspan></text>
<text transform="translate(1007.65,718.50) rotate(-45)">01<tspan font-size="11.5" dy="1.1">/</tspan><tspan dy="-1.1">09</tspan><tspan font-size="11.5" dy="1.1">/</tspan><tspan dy="-1.1">24</tspan></text>
<text transform="translate(1019.41,718.50) rotate(-45)">01<tspan font-size="11.5" dy="1.1">/</tspan><tspan dy="-1.1">10</tspan><tspan font-size="11.5" dy="1.1">/</tspan><tspan dy="-1.1">24</tspan></text>
<text transform="translate(1031.16,718.50) rotate(-45)">01<tspan font-size="11.5" dy="1.1">/</tspan><tspan dy="-1.1">11</tspan><tspan font-size="11.5" dy="1.1">/</tspan><tspan dy="-1.1">24</tspan></text>
<text transform="translate(1042.91,718.50) rotate(-45)">01<tspan font-size="11.5" dy="1.1">/</tspan><tspan dy="-1.1">12</tspan><tspan font-size="11.5" dy="1.1">/</tspan><tspan dy="-1.1">24</tspan></text>
<text transform="translate(1054.67,718.50) rotate(-45)">01<tspan font-size="11.5" dy="1.1">/</tspan><tspan dy="-1.1">01</tspan><tspan font-size="11.5" dy="1.1">/</tspan><tspan dy="-1.1">25</tspan></text>
<text transform="translate(1066.42,718.50) rotate(-45)">01<tspan font-size="11.5" dy="1.1">/</tspan><tspan dy="-1.1">02</tspan><tspan font-size="11.5" dy="1.1">/</tspan><tspan dy="-1.1">25</tspan></text>
<text transform="translate(1078.18,718.50) rotate(-45)">01<tspan font-size="11.5" dy="1.1">/</tspan><tspan dy="-1.1">03</tspan><tspan font-size="11.5" dy="1.1">/</tspan><tspan dy="-1.1">25</tspan></text>
<text transform="translate(1089.93,718.50) rotate(-45)">01<tspan font-size="11.5" dy="1.1">/</tspan><tspan dy="-1.1">04</tspan><tspan font-size="11.5" dy="1.1">/</tspan><tspan dy="-1.1">25</tspan></text>
<text transform="translate(1101.69,718.50) rotate(-45)">01<tspan font-size="11.5" dy="1.1">/</tspan><tspan dy="-1.1">05</tspan><tspan font-size="11.5" dy="1.1">/</tspan><tspan dy="-1.1">25</tspan></text>
<text transform="translate(1113.45,718.50) rotate(-45)">01<tspan font-size="11.5" dy="1.1">/</tspan><tspan dy="-1.1">06</tspan><tspan font-size="11.5" dy="1.1">/</tspan><tspan dy="-1.1">25</tspan></text>
<text transform="translate(1125.20,718.50) rotate(-45)">01<tspan font-size="11.5" dy="1.1">/</tspan><tspan dy="-1.1">07</tspan><tspan font-size="11.5" dy="1.1">/</tspan><tspan dy="-1.1">25</tspan></text>
<text transform="translate(1136.96,718.50) rotate(-45)">01<tspan font-size="11.5" dy="1.1">/</tspan><tspan dy="-1.1">08</tspan><tspan font-size="11.5" dy="1.1">/</tspan><tspan dy="-1.1">25</tspan></text>
<text transform="translate(1148.71,718.50) rotate(-45)">01<tspan font-size="11.5" dy="1.1">/</tspan><tspan dy="-1.1">09</tspan><tspan font-size="11.5" dy="1.1">/</tspan><tspan dy="-1.1">25</tspan></text>
<text transform="translate(1160.47,718.50) rotate(-45)">01<tspan font-size="11.5" dy="1.1">/</tspan><tspan dy="-1.1">10</tspan><tspan font-size="11.5" dy="1.1">/</tspan><tspan dy="-1.1">25</tspan></text>
<text transform="translate(1172.22,718.50) rotate(-45)">01<tspan font-size="11.5" dy="1.1">/</tspan><tspan dy="-1.1">11</tspan><tspan font-size="11.5" dy="1.1">/</tspan><tspan dy="-1.1">25</tspan></text>
</g>
</g>
</svg>
</body>
</html>
